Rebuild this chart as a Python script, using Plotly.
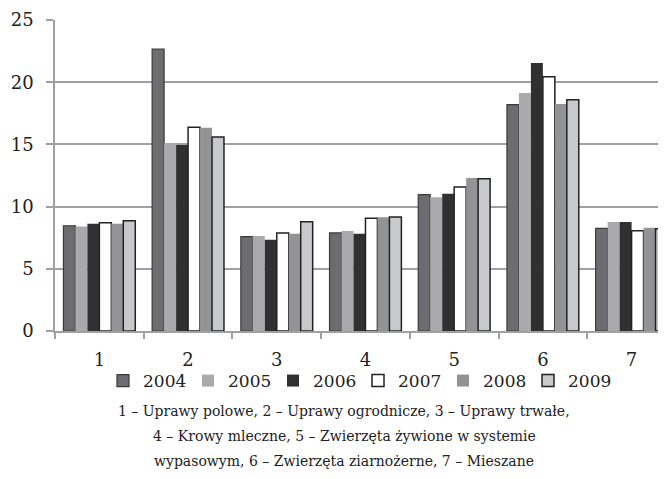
import plotly.graph_objects as go

categories = ["1", "2", "3", "4", "5", "6", "7"]
years = ["2004", "2005", "2006", "2007", "2008", "2009"]
v2004 = [8.46, 22.67, 7.58, 7.88, 10.96, 18.19, 8.25]
v2005 = [8.41, 15.11, 7.64, 8.04, 10.75, 19.13, 8.76]
v2006 = [8.63, 14.95, 7.34, 7.82, 11.04, 21.54, 8.76]
v2007 = [8.71, 16.37, 7.88, 9.06, 11.58, 20.44, 8.06]
v2008 = [8.63, 16.34, 7.82, 9.14, 12.30, 18.25, 8.30]
v2009 = [8.87, 15.59, 8.79, 9.16, 12.24, 18.59, 8.22]
series = [v2004, v2005, v2006, v2007, v2008, v2009]
y_ticks = [0, 5, 10, 15, 20, 25]
caption = ["1 – Uprawy polowe, 2 – Uprawy ogrodnicze, 3 – Uprawy trwałe,",
           "4 – Krowy mleczne, 5 – Zwierzęta żywione w systemie",
           "wypasowym, 6 – Zwierzęta ziarnożerne, 7 – Mieszane"]

fills = ["#6d6d71", "#aaaaac", "#303030", "#ffffff", "#939395", "#c8c9cb"]
lines = ["#3a3a3a", "#aaaaac", "#303030", "#222222", "#939395", "#222222"]
lwidth = [1.2, 0, 0, 1.5, 0, 1.5]

FONT = "DejaVu Serif"
OFF = 8  # default body margin of the html page

# target plot area in page pixels
PL, PT, PR, PB = 55, 20, 666, 331
PW, PH = PR - PL, PB - PT

fig = go.Figure()
for name, vals, fc, lc, lw in zip(years, series, fills, lines, lwidth):
    fig.add_trace(go.Bar(
        x=categories, y=vals, name=name,
        marker=dict(color=fc, line=dict(color=lc, width=lw)),
    ))

fig.update_layout(
    width=666 - OFF, height=479 - OFF,
    margin=dict(l=PL - OFF, r=0, t=PT - OFF, b=479 - PB, autoexpand=False),
    paper_bgcolor="white", plot_bgcolor="white",
    barmode="group", bargap=0.19, bargroupgap=0,
    font=dict(family=FONT, size=18, color="#222"),
    showlegend=True,
    legend=dict(orientation="h", x=(358 - PL) / PW, xanchor="center",
                y=(PB - 363) / PH, yanchor="top", bgcolor="rgba(0,0,0,0)",
                font=dict(family=FONT, size=17), itemwidth=30, tracegroupgap=0,
                entrywidth=40, entrywidthmode="pixels"),
)
fig.update_xaxes(
    type="category", range=[-0.5, 6.388], automargin=False,
    showline=True, linecolor="#a0a0a0", linewidth=1.5,
    ticks="outside", tickson="boundaries", ticklen=6, tickcolor="#a0a0a0", tickwidth=1.5,
    ticklabelstandoff=12,
    showgrid=False, tickfont=dict(family=FONT, size=18),
)
fig.update_yaxes(
    range=[0, 25], tickvals=y_ticks, automargin=False,
    showline=True, linecolor="#a0a0a0", linewidth=1.5,
    ticks="outside", ticklen=7, tickcolor="#a0a0a0", tickwidth=1.5,
    ticklabelstandoff=9,
    showgrid=True, gridcolor="#a0a0a0", gridwidth=1.5,
    zeroline=False, tickfont=dict(family=FONT, size=18),
)

for i, line in enumerate(caption):
    fig.add_annotation(text=line, xref="paper", yref="paper",
                       x=(344 - PL) / PW, xanchor="center",
                       y=(PB - 411) / PH, yanchor="middle",
                       yshift=-25 * i, showarrow=False,
                       font=dict(family=FONT, size=14, color="#222"))

fig.write_html("out.html")
